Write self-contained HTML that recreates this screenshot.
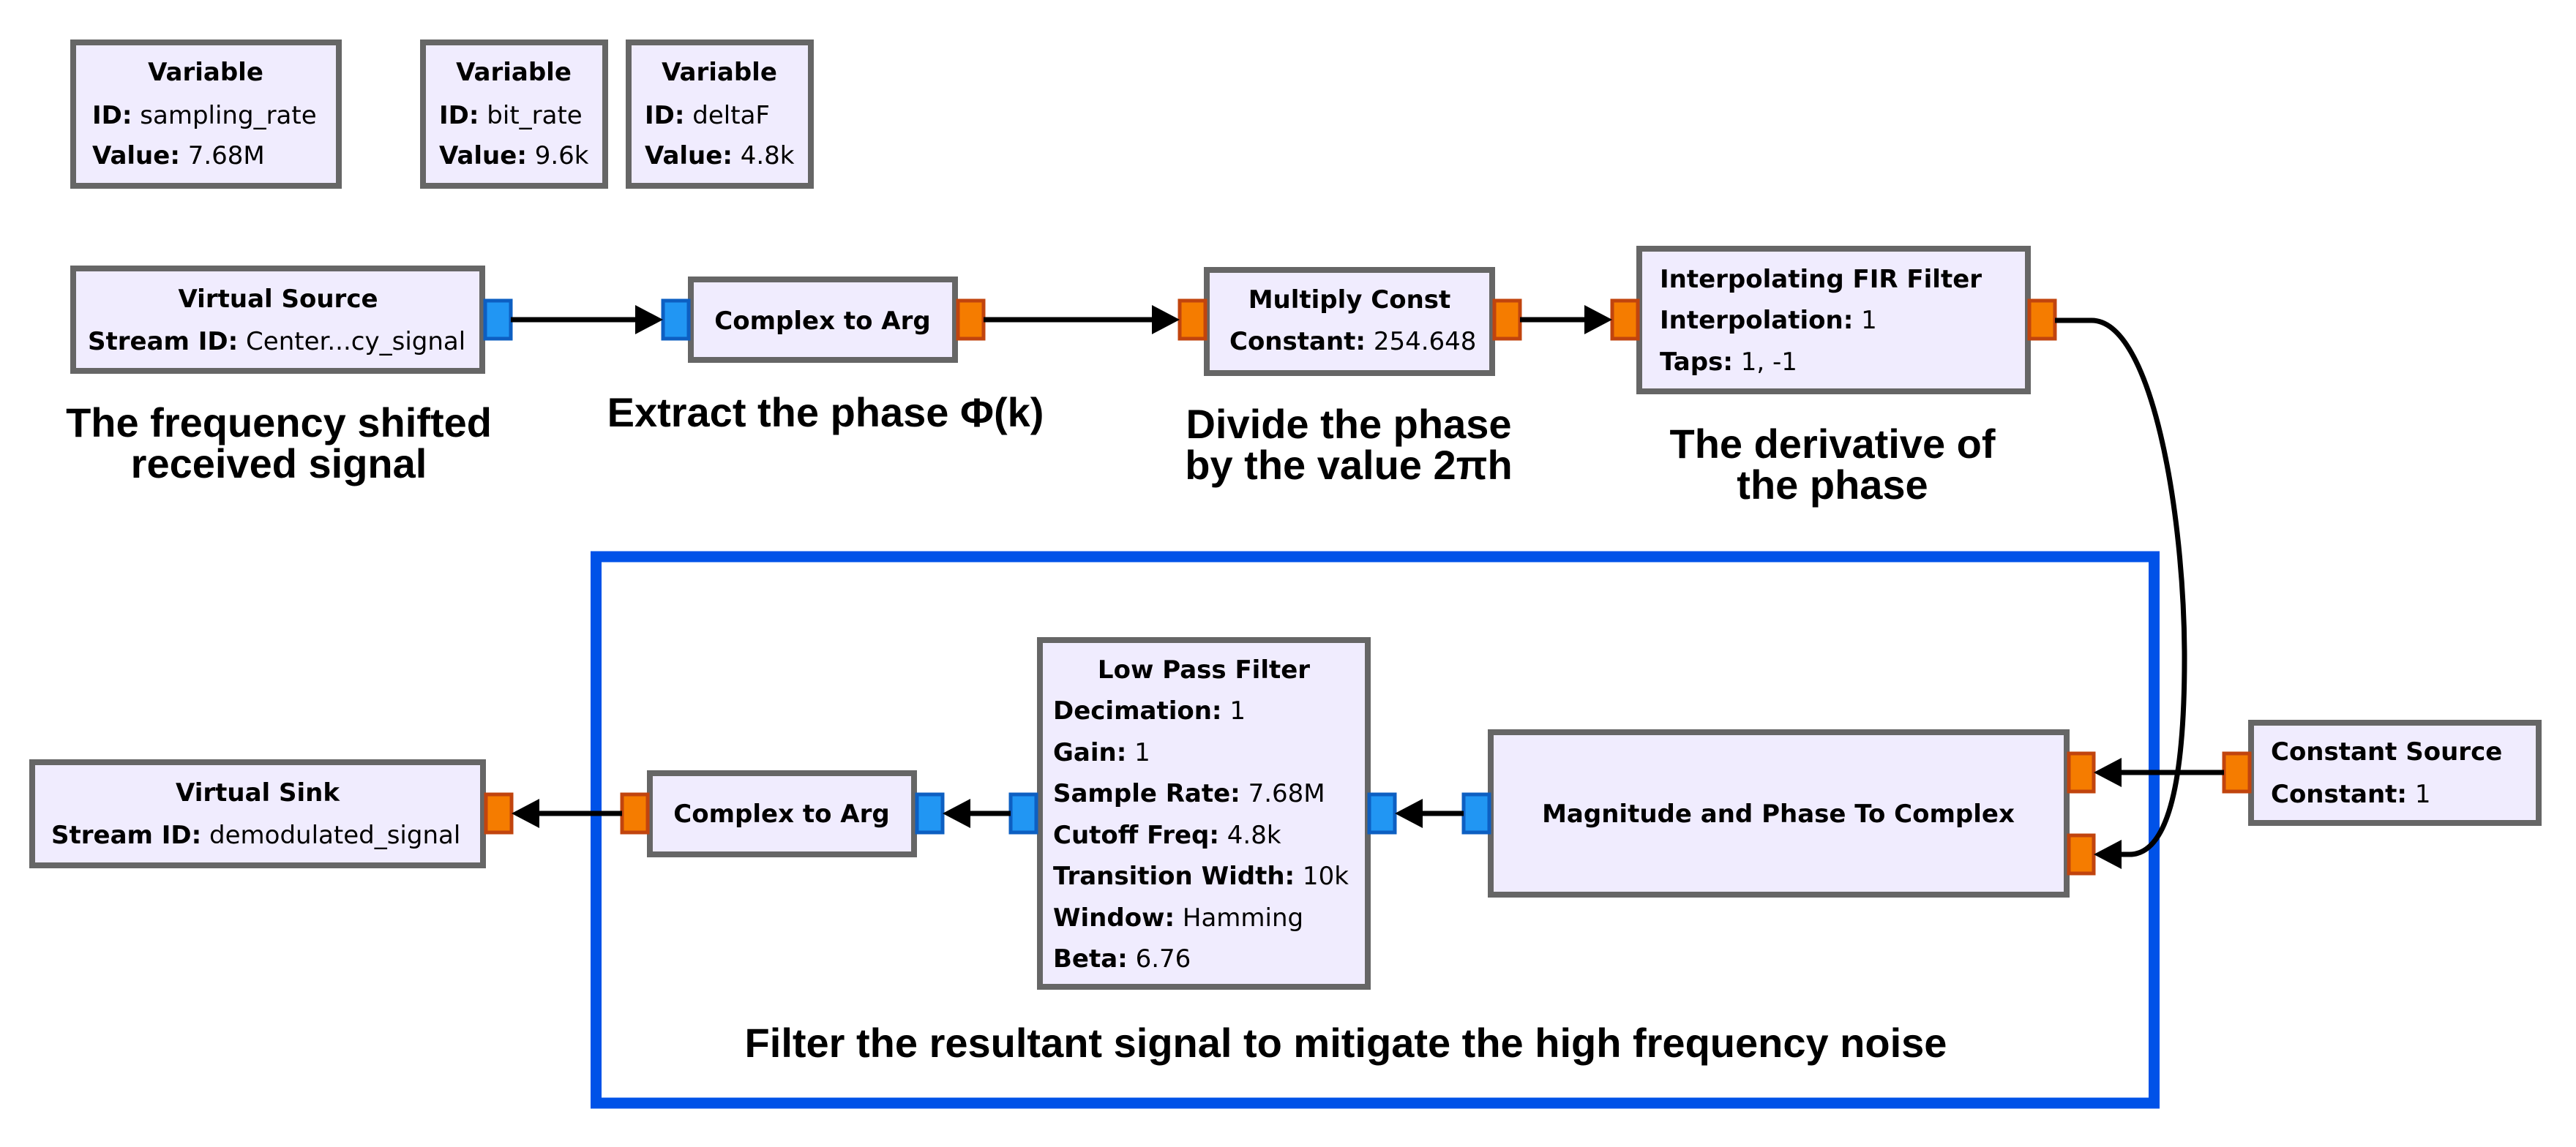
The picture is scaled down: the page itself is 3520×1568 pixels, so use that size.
<!DOCTYPE html>
<html><head><meta charset="utf-8"><style>
html,body{margin:0;padding:0;background:#fff;}
svg{display:block;}
.b{font-family:"DejaVu Sans",sans-serif;font-size:34px;fill:#000;}
.t{font-weight:bold;}
.k{font-weight:bold;}
.a{font-family:"Liberation Sans",Arial,sans-serif;font-weight:bold;font-size:56px;fill:#000;text-anchor:middle;}
.box{fill:#f0ecfe;stroke:#666;stroke-width:8;}
.pb{fill:#2196f3;stroke:#0d5fc2;stroke-width:5;}
.po{fill:#f57c00;stroke:#c1440e;stroke-width:5;}
.ln{stroke:#000;stroke-width:7;fill:none;}
</style></head><body>
<svg width="3520" height="1568" viewBox="0 0 3520 1568" xmlns="http://www.w3.org/2000/svg">
<rect class="box" x="100" y="58" width="363" height="196"/>
<text class="b t" x="281" y="110" text-anchor="middle">Variable</text>
<text class="b" x="126" y="169"><tspan class="k">ID:</tspan> sampling_rate</text>
<text class="b" x="126" y="224"><tspan class="k">Value:</tspan> 7.68M</text>

<rect class="box" x="578" y="58" width="249" height="196"/>
<text class="b t" x="702" y="110" text-anchor="middle">Variable</text>
<text class="b" x="600" y="169"><tspan class="k">ID:</tspan> bit_rate</text>
<text class="b" x="600" y="224"><tspan class="k">Value:</tspan> 9.6k</text>

<rect class="box" x="859" y="58" width="249" height="196"/>
<text class="b t" x="983" y="110" text-anchor="middle">Variable</text>
<text class="b" x="881" y="169"><tspan class="k">ID:</tspan> deltaF</text>
<text class="b" x="881" y="224"><tspan class="k">Value:</tspan> 4.8k</text>

<rect class="box" x="100" y="367" width="559" height="140"/>
<text class="b t" x="380" y="420" text-anchor="middle">Virtual Source</text>
<text class="b" x="120" y="478"><tspan class="k">Stream ID:</tspan> Center...cy_signal</text>
<rect class="pb" x="663" y="411" width="35" height="52"/>

<rect class="box" x="944" y="382" width="361" height="110"/>
<text class="b t" x="1124" y="450" text-anchor="middle">Complex to Arg</text>
<rect class="pb" x="906" y="411" width="35" height="52"/>
<rect class="po" x="1309" y="411" width="35" height="52"/>

<rect class="box" x="1649" y="369" width="390" height="141"/>
<text class="b t" x="1844" y="421" text-anchor="middle">Multiply Const</text>
<text class="b" x="1680" y="478"><tspan class="k">Constant:</tspan> 254.648</text>
<rect class="po" x="1612" y="411" width="35" height="52"/>
<rect class="po" x="2042" y="411" width="35" height="52"/>

<rect class="box" x="2240" y="340" width="531" height="195"/>
<text class="b t" x="2268" y="393">Interpolating FIR Filter</text>
<text class="b" x="2268" y="449"><tspan class="k">Interpolation:</tspan> 1</text>
<text class="b" x="2268" y="506"><tspan class="k">Taps:</tspan> 1, -1</text>
<rect class="po" x="2203" y="411" width="35" height="52"/>
<rect class="po" x="2773" y="411" width="35" height="52"/>

<text class="a" x="381" y="597">The frequency shifted</text>
<text class="a" x="381" y="653">received signal</text>
<text class="a" x="1128" y="583">Extract the phase Φ(k)</text>
<text class="a" x="1843" y="599">Divide the phase</text>
<text class="a" x="1843" y="655">by the value 2πh</text>
<text class="a" x="2504" y="626">The derivative of</text>
<text class="a" x="2504" y="682">the phase</text>

<rect x="814.5" y="761" width="2129" height="747" fill="none" stroke="#0052e8" stroke-width="15"/>
<text class="a" x="1839" y="1445">Filter the resultant signal to mitigate the high frequency noise</text>

<rect class="box" x="44" y="1042" width="616" height="141"/>
<text class="b t" x="352" y="1095" text-anchor="middle">Virtual Sink</text>
<text class="b" x="70" y="1153"><tspan class="k">Stream ID:</tspan> demodulated_signal</text>
<rect class="po" x="664" y="1086" width="35" height="52"/>

<rect class="box" x="888" y="1057" width="361" height="111"/>
<text class="b t" x="1068" y="1124" text-anchor="middle">Complex to Arg</text>
<rect class="po" x="850" y="1086" width="35" height="52"/>
<rect class="pb" x="1253" y="1086" width="35" height="52"/>

<rect class="box" x="1421" y="875" width="448" height="474"/>
<text class="b t" x="1645" y="927" text-anchor="middle">Low Pass Filter</text>
<text class="b" x="1439" y="983"><tspan class="k">Decimation:</tspan> 1</text>
<text class="b" x="1439" y="1040"><tspan class="k">Gain:</tspan> 1</text>
<text class="b" x="1439" y="1096"><tspan class="k">Sample Rate:</tspan> 7.68M</text>
<text class="b" x="1439" y="1153"><tspan class="k">Cutoff Freq:</tspan> 4.8k</text>
<text class="b" x="1439" y="1209"><tspan class="k">Transition Width:</tspan> 10k</text>
<text class="b" x="1439" y="1266"><tspan class="k">Window:</tspan> Hamming</text>
<text class="b" x="1439" y="1322"><tspan class="k">Beta:</tspan> 6.76</text>
<rect class="pb" x="1381" y="1086" width="35" height="52"/>
<rect class="pb" x="1871" y="1086" width="35" height="52"/>

<rect class="box" x="2037" y="1001" width="787" height="222"/>
<text class="b t" x="2430" y="1124" text-anchor="middle">Magnitude and Phase To Complex</text>
<rect class="pb" x="2000" y="1086" width="35" height="52"/>
<rect class="po" x="2827" y="1030" width="34" height="52"/>
<rect class="po" x="2827" y="1142" width="34" height="52"/>

<rect class="box" x="3076" y="988" width="393" height="137"/>
<text class="b t" x="3103" y="1039">Constant Source</text>
<text class="b" x="3103" y="1097"><tspan class="k">Constant:</tspan> 1</text>
<rect class="po" x="3039" y="1030" width="35" height="52"/>

<line class="ln" x1="698" y1="437" x2="872" y2="437"/>
<polygon points="906,437 868,417 868,457" fill="#000"/>
<line class="ln" x1="1344" y1="437" x2="1580" y2="437"/>
<polygon points="1612,437 1574,417 1574,457" fill="#000"/>
<line class="ln" x1="2077" y1="437" x2="2170" y2="437"/>
<polygon points="2203,437 2165,417 2165,457" fill="#000"/>
<path class="ln" d="M2808,438 L2858,438 C2940,438 2985,700 2985,900 C2985,1060 2965,1168 2910,1168 L2895,1168"/>
<polygon points="2861,1168 2899,1148 2899,1188" fill="#000"/>
<line class="ln" x1="3039" y1="1056" x2="2895" y2="1056"/>
<polygon points="2861,1056 2899,1036 2899,1076" fill="#000"/>
<line class="ln" x1="2000" y1="1112" x2="1940" y2="1112"/>
<polygon points="1906,1112 1944,1092 1944,1132" fill="#000"/>
<line class="ln" x1="1381" y1="1112" x2="1322" y2="1112"/>
<polygon points="1288,1112 1326,1092 1326,1132" fill="#000"/>
<line class="ln" x1="850" y1="1112" x2="733" y2="1112"/>
<polygon points="699,1112 737,1092 737,1132" fill="#000"/>
</svg>
</body></html>
